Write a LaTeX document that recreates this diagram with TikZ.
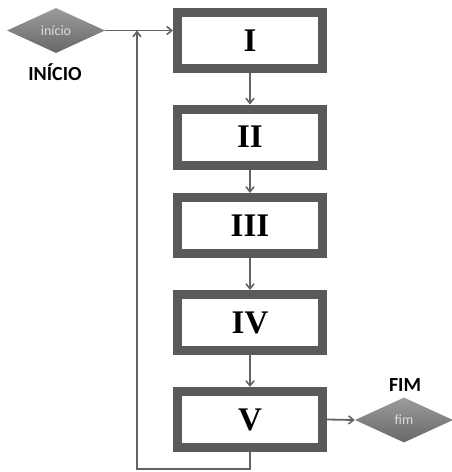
\documentclass[tikz,border=0pt]{standalone}
\usepackage{fontspec}
\setmainfont{Liberation Serif}
\newfontfamily\labelfont{Carlito}
\usetikzlibrary{shapes.geometric,arrows.meta}
\definecolor{framegray}{HTML}{5A5A5A}
\definecolor{linegray}{HTML}{636363}
\definecolor{diatop}{HTML}{9C9C9C}
\definecolor{diabot}{HTML}{676767}
\definecolor{diatext}{HTML}{DCDCDC}
\tikzset{
  stepbox/.style={draw=framegray, line width=9pt, fill=white,
    minimum width=145pt, minimum height=56pt, inner sep=0pt,
    font=\fontsize{33}{33}\selectfont\bfseries},
  terminal/.style={diamond, aspect=2.18, inner sep=0pt,
    minimum width=98pt, minimum height=45pt,
    top color=diatop, bottom color=diabot, draw=none,
    text=diatext, font=\labelfont\fontsize{14}{14}\selectfont},
  caption/.style={font=\labelfont\bfseries\fontsize{20}{20}\selectfont},
  flow/.style={draw=linegray, line width=1.8pt,
    -{Straight Barb[length=5pt,width=8pt,line width=1.6pt]}}
}
\begin{document}
\begin{tikzpicture}[x=1pt,y=-1pt]
  \useasboundingbox (0,0) rectangle (452,472);
  % process boxes
  \node[stepbox] (b1) at (250,40.5) {I};
  \node[stepbox] (b2) at (250,137) {II};
  \node[stepbox] (b3) at (250,225.5) {III};
  \node[stepbox] (b4) at (250,322.5) {IV};
  \node[stepbox] (b5) at (250,419.5) {V};
  % start and end terminals
  \node[terminal] (start) at (56,30.5) {início};
  \node[caption] (startlbl) at (55,72) {INÍCIO};
  \node[terminal] (stop) at (404,420) {fim};
  \node[caption] (stoplbl) at (405,385) {FIM};
  % helper points of the loop back
  \coordinate (join) at (137,30.5);
  \coordinate (loopA) at (137,469);
  \coordinate (loopB) at (250,469);
  % connectors
  \draw[flow] (start.east) -- (start.east -| b1.west);
  \draw[flow] (b1.south) -- (b2.north);
  \draw[flow] (b2.south) -- (b3.north);
  \draw[flow] (b3.south) -- (b4.north);
  \draw[flow] (b4.south) -- (b5.north);
  \draw[flow] (b5.east) -- (stop.west);
  \draw[flow] (b5.south) -- (loopB) -- (loopA) -- (join);
\end{tikzpicture}
\end{document}
